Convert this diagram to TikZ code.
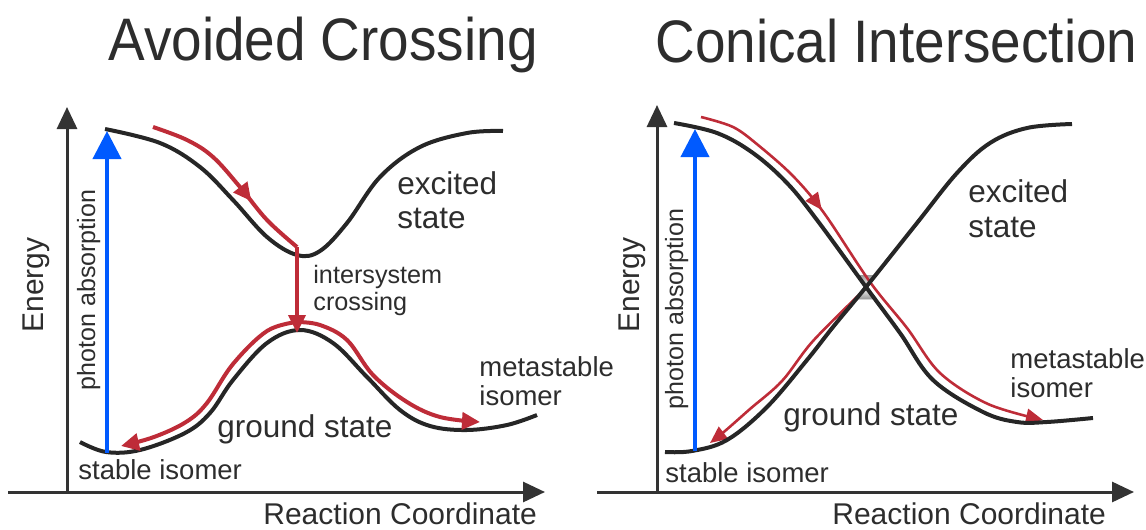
\documentclass[tikz,border=0pt]{standalone}
\usepackage{graphicx}
\usepackage{fontspec}
\setmainfont{Liberation Sans}
\usetikzlibrary{arrows.meta,decorations.markings}
\definecolor{curveblack}{RGB}{38,38,38}
\definecolor{axisgray}{RGB}{51,51,51}
\definecolor{txtgray}{RGB}{45,45,45}
\definecolor{pathred}{RGB}{190,44,56}
\definecolor{photonblue}{RGB}{0,90,255}
\begin{document}
\begin{tikzpicture}[x=0.5pt,y=-0.5pt,
  axisline/.style={draw=axisgray, line width=1.5pt, -{Triangle[length=11pt,width=10pt]}},
  pes/.style={draw=curveblack, line width=2pt},
  redthick/.style={draw=pathred, line width=2pt},
  redthin/.style={draw=pathred, line width=1.3pt},
  photon/.style={draw=photonblue, line width=2pt, -{Triangle[length=14pt,width=14pt]}},
  txt/.style={text=txtgray, inner sep=0pt, anchor=base west},
  title/.style={txt, font=\fontsize{30pt}{36pt}\selectfont},
  biglbl/.style={txt, font=\fontsize{15.75pt}{18pt}\selectfont},
  midlbl/.style={txt, font=\fontsize{13.75pt}{16pt}\selectfont},
  smalllbl/.style={txt, font=\fontsize{12.6pt}{15pt}\selectfont},
  axislbl/.style={txt, font=\fontsize{15pt}{18pt}\selectfont},
  photonlbl/.style={text=txtgray, inner sep=0pt, font=\fontsize{12.5pt}{15pt}\selectfont, rotate=90, anchor=base},
  energylbl/.style={text=txtgray, inner sep=0pt, font=\fontsize{15pt}{18pt}\selectfont, rotate=90, anchor=base},
  midarrowthick/.style={postaction={decorate}, decoration={markings, mark=at position #1 with {\arrow{Triangle[length=9pt,width=8.5pt]}}}},
  midarrowthin/.style={postaction={decorate}, decoration={markings, mark=at position #1 with {\arrow{Triangle[length=8.5pt,width=7.5pt]}}}}
]
\useasboundingbox (0,0) rectangle (1146,530);

% ================= LEFT PANEL: Avoided Crossing =================
\node[title] (titleL) at (108,60) {\scalebox{0.915}[1]{Avoided Crossing}};

\coordinate (LO) at (67,492);
\coordinate (LYtop) at (67,107);
\coordinate (LXstart) at (8,492);
\coordinate (LXend) at (545,492);
\draw[axisline] (LO) -- (LYtop);
\draw[axisline] (LXstart) -- (LXend);

% excited state curve
\draw[pes] plot[smooth, tension=0.6] coordinates {(105,129) (160,143) (200,167) (233,200) (267,237) (297,255) (320,251) (347,223) (380,177) (420,147) (467,133) (503,131)};
% ground state curve
\draw[pes] plot[smooth, tension=0.6] coordinates {(80,442) (106,452) (140,450) (185,433) (210,413) (233,380) (267,343) (300,330) (333,343) (367,377) (400,410) (430,426) (467,430) (507,425) (537,415)};

% photon absorption
\coordinate (LBlueBot) at (107,453);
\coordinate (LBlueTop) at (107,131);
\draw[photon] (LBlueBot) -- (LBlueTop);

% red paths
\coordinate (LCorner) at (297,247);
\coordinate (LPeak) at (297,333);
\draw[redthick, midarrowthick=0.66] plot[smooth, tension=0.6] coordinates {(153,127) (187,140) (213,157) (240,187) (267,220) (297,247)};
\draw[redthick, -{Triangle[length=9pt,width=8.5pt]}] (LCorner) -- (LPeak);
\draw[redthick, -{Triangle[length=9pt,width=8.5pt]}] plot[smooth, tension=0.6] coordinates {(297,322) (267,331) (233,364) (207,403) (186,422) (154,437) (121,446)};
\draw[redthick, -{Triangle[length=9pt,width=8.5pt]}] plot[smooth, tension=0.6] coordinates {(297,322) (320,325) (347,340) (373,375) (407,402) (440,417) (480,422)};

% labels
\node[biglbl] (exL1) at (397,194) {excited};
\node[biglbl] (exL2) at (397,228) {state};
\node[smalllbl] (iscL1) at (313,283) {intersystem};
\node[smalllbl] (iscL2) at (313,310) {crossing};
\node[midlbl] (metaL1) at (479,376) {metastable};
\node[midlbl] (metaL2) at (479,405) {isomer};
\node[biglbl] (gsL) at (217,437) {ground state};
\node[midlbl] (stabL) at (78,479) {stable isomer};
\node[axislbl] (rcL) at (263,524) {Reaction Coordinate};
\node[energylbl] (enL) at (43,285) {Energy};
\node[photonlbl] (phL) at (95,290) {photon absorption};

% ================= RIGHT PANEL: Conical Intersection =================
\node[title] (titleR) at (655,62) {\scalebox{0.915}[1]{Conical Intersection}};

\coordinate (RO) at (657,492);
\coordinate (RYtop) at (657,105);
\coordinate (RXstart) at (597,492);
\coordinate (RXend) at (1134,492);
\draw[axisline] (RO) -- (RYtop);
\draw[axisline] (RXstart) -- (RXend);

% crossing marker
\coordinate (CI) at (866,287);
\fill[top color=gray!80, bottom color=white] (856,275) -- (877,275) -- (CI) -- cycle;
\fill[top color=white, bottom color=gray!80] (CI) -- (877,299) -- (855,299) -- cycle;

% red paths
\draw[redthin, midarrowthin=0.33, -{Triangle[length=8.5pt,width=7.5pt]}] plot[smooth, tension=0.55] coordinates {(701,117) (733,127) (758,145) (793,176) (824,213) (870,282) (907,328) (940,373) (988,404) (1043,420)};
\draw[redthin, -{Triangle[length=8.5pt,width=7.5pt]}] plot[smooth, tension=0.55] coordinates {(863,291) (813,341) (782,381) (750,409) (725,431) (710,443)};

% potential energy curves
\draw[pes] plot[smooth, tension=0.6] coordinates {(674,123) (717,133) (753,153) (787,183) (817,220) (866,287) (900,333) (933,380) (983,412) (1017,422) (1047,422) (1093,418)};
\draw[pes] plot[smooth, tension=0.6] coordinates {(665,452) (692,451) (727,440) (767,407) (807,360) (833,327) (866,287) (917,223) (957,173) (990,143) (1027,128) (1072,124)};

% photon absorption
\coordinate (RBlueBot) at (695,451);
\coordinate (RBlueTop) at (695,129);
\draw[photon] (RBlueBot) -- (RBlueTop);

% labels
\node[biglbl] (exR1) at (968,202) {excited};
\node[biglbl] (exR2) at (968,237) {state};
\node[midlbl] (metaR1) at (1010,368) {metastable};
\node[midlbl] (metaR2) at (1010,397) {isomer};
\node[biglbl] (gsR) at (783,425) {ground state};
\node[midlbl] (stabR) at (665,482) {stable isomer};
\node[axislbl] (rcR) at (832,524) {Reaction Coordinate};
\node[energylbl] (enR) at (639,285) {Energy};
\node[photonlbl] (phR) at (683,309) {photon absorption};
\end{tikzpicture}
\end{document}
